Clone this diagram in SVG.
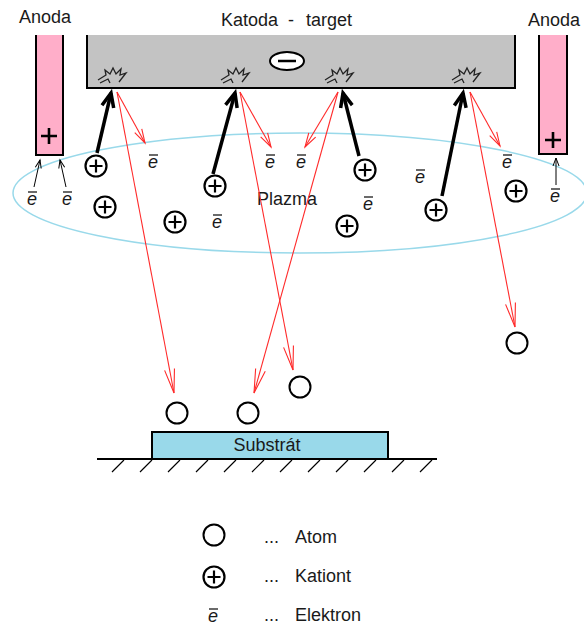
<svg xmlns="http://www.w3.org/2000/svg" xmlns:xlink="http://www.w3.org/1999/xlink" width="584" height="628" viewBox="0 0 584 628">
  <style>
    .lbl { font-family: "Liberation Sans", Arial, sans-serif; font-size: 18px; fill: #1a1a1a; }
    .el { font-family: "Liberation Sans", Arial, sans-serif; font-size: 18px; font-style: italic; fill: #1a1a1a; }
    .elbar { stroke: #1a1a1a; stroke-width: 1.3; }
    .ion { fill: #fff; stroke: #000; stroke-width: 2.2; }
    .ionp { stroke: #000; stroke-width: 2.2; }
    .atom { fill: #fff; stroke: #000; stroke-width: 2; }
    .spark { fill: none; stroke: #222; stroke-width: 1.3; stroke-linejoin: miter; }
    .ray { fill: none; stroke: #ff2a2a; stroke-width: 1.1; }
    .hit { fill: none; stroke: #000; stroke-width: 3.5; }
    .drift { fill: none; stroke: #000; stroke-width: 1; }
    .edge { stroke: #000; stroke-width: 2; fill: none; }
    .plus { stroke: #000; stroke-width: 2.6; }
  </style>
  <defs>
    <marker id="rayHeadLong" viewBox="-30 -10 32 20" refX="0" refY="0" markerWidth="32" markerHeight="20" markerUnits="userSpaceOnUse" orient="auto">
      <path d="M-24,-5 L0,0 L-24,5" fill="none" stroke="#ff2a2a" stroke-width="1.1"/>
    </marker>
    <marker id="rayHeadShort" viewBox="-20 -8 22 16" refX="0" refY="0" markerWidth="22" markerHeight="16" markerUnits="userSpaceOnUse" orient="auto">
      <path d="M-14,-4 L0,0 L-14,4" fill="none" stroke="#ff2a2a" stroke-width="1.1"/>
    </marker>
    <marker id="hitHead" viewBox="-20 -10 24 20" refX="0" refY="0" markerWidth="24" markerHeight="20" markerUnits="userSpaceOnUse" orient="auto">
      <path d="M-14,-6 L0,0 L-14,6" fill="none" stroke="#000" stroke-width="3.5" stroke-linejoin="miter"/>
    </marker>
    <marker id="driftHead" viewBox="-12 -6 14 12" refX="0" refY="0" markerWidth="14" markerHeight="12" markerUnits="userSpaceOnUse" orient="auto">
      <path d="M-8,-3 L0,0 L-8,3" fill="none" stroke="#000" stroke-width="1"/>
    </marker>
    <!-- cation: circle with plus -->
    <g id="cation">
      <circle class="ion" r="10.5"/>
      <path class="ionp" d="M-6.5,0 H6.5 M0,-6.5 V6.5"/>
    </g>
    <!-- electron: italic e with overbar -->
    <g id="electron">
      <line class="elbar" x1="-4" y1="-8" x2="5" y2="-8"/>
      <text class="el" x="0" y="5" text-anchor="middle">e</text>
    </g>
    <!-- sputter spark on cathode surface -->
    <path id="spark" class="spark" d="M-14,3 L-6,-2 L-7,-7 L-2,-3 L1,-9 L4,-3 L9,-8 L8,-2 L14,-4 L7,5 M-12,6 L-4,2 L-2,6"/>
  </defs>

  <!-- plasma region -->
  <g id="plasma">
    <ellipse cx="300" cy="193" rx="287" ry="60" fill="none" stroke="#99d9ea" stroke-width="1.5"/>
    <text class="lbl" x="257" y="205" font-size="17">Plazma</text>
  </g>

  <!-- cathode / target -->
  <g id="cathode">
    <rect x="87" y="35" width="428" height="53" fill="#c3c3c3"/>
    <path class="edge" d="M87,35 V88 H515 V35"/>
    <ellipse cx="287" cy="61" rx="17" ry="9" fill="#fff" stroke="#000" stroke-width="2"/>
    <line x1="278" y1="61" x2="296" y2="61" stroke="#000" stroke-width="2.5"/>
    <use xlink:href="#spark" x="112" y="77"/>
    <use xlink:href="#spark" x="235" y="77"/>
    <use xlink:href="#spark" x="339" y="77"/>
    <use xlink:href="#spark" x="466" y="77"/>
    <text class="lbl" y="26"><tspan x="221">Katoda </tspan><tspan x="288">- </tspan><tspan x="306">target</tspan></text>
  </g>

  <!-- anodes -->
  <g id="anode-left">
    <rect x="36" y="35" width="27" height="120" fill="#ffaec9"/>
    <path class="edge" d="M36,35 V155 H63 V35"/>
    <path class="plus" d="M41,136 H57 M49,128 V144"/>
    <text class="lbl" x="19" y="23">Anoda</text>
  </g>
  <g id="anode-right">
    <rect x="539" y="35" width="28" height="119" fill="#ffaec9"/>
    <path class="edge" d="M539,35 V154 H567 V35"/>
    <path class="plus" d="M545,140 H561 M553,132 V148"/>
    <text class="lbl" x="528" y="26">Anoda</text>
  </g>

  <!-- cations -->
  <g id="cations">
    <use xlink:href="#cation" x="96" y="166"/>
    <use xlink:href="#cation" x="105" y="207"/>
    <use xlink:href="#cation" x="175" y="222"/>
    <use xlink:href="#cation" x="215" y="186"/>
    <use xlink:href="#cation" x="365" y="170"/>
    <use xlink:href="#cation" x="347" y="226"/>
    <use xlink:href="#cation" x="436" y="210"/>
    <use xlink:href="#cation" x="516" y="191"/>
  </g>

  <!-- electrons -->
  <g id="electrons">
    <use xlink:href="#electron" x="32" y="200"/>
    <use xlink:href="#electron" x="67" y="200"/>
    <use xlink:href="#electron" x="153" y="163"/>
    <use xlink:href="#electron" x="217" y="223"/>
    <use xlink:href="#electron" x="270" y="163"/>
    <use xlink:href="#electron" x="301" y="163"/>
    <use xlink:href="#electron" x="368" y="205"/>
    <use xlink:href="#electron" x="420" y="178"/>
    <use xlink:href="#electron" x="507" y="163"/>
    <use xlink:href="#electron" x="555" y="197"/>
  </g>

  <!-- sputtered atoms -->
  <g id="atoms">
    <circle class="atom" cx="177" cy="413" r="10.5"/>
    <circle class="atom" cx="248" cy="413" r="10.5"/>
    <circle class="atom" cx="300" cy="387" r="10.5"/>
    <circle class="atom" cx="517" cy="343" r="10.5"/>
  </g>

  <!-- substrate on ground -->
  <g id="substrate">
    <rect x="152" y="432" width="236" height="27" fill="#99d9ea" stroke="#000" stroke-width="2"/>
    <text class="lbl" x="267" y="451" text-anchor="middle">Substrát</text>
    <line x1="97" y1="459" x2="437" y2="459" stroke="#000" stroke-width="2"/>
    <path d="M112,472 L124,460 M140,472 L152,460 M168,472 L180,460 M196,472 L208,460 M224,472 L236,460 M252,472 L264,460 M280,472 L292,460 M308,472 L320,460 M336,472 L348,460 M364,472 L376,460 M392,472 L404,460 M420,472 L432,460" stroke="#000" stroke-width="1.2"/>
  </g>

  <!-- connectors -->
  <g id="connectors">
    <!-- cation impacts -->
    <line class="hit" x1="97" y1="153" x2="111" y2="93" marker-end="url(#hitHead)"/>
    <line class="hit" x1="213" y1="174" x2="235" y2="93" marker-end="url(#hitHead)"/>
    <line class="hit" x1="359" y1="156" x2="343" y2="93" marker-end="url(#hitHead)"/>
    <line class="hit" x1="442" y1="196" x2="463" y2="93" marker-end="url(#hitHead)"/>
    <!-- secondary electrons -->
    <line class="ray" x1="117" y1="92" x2="145" y2="143" marker-end="url(#rayHeadShort)"/>
    <line class="ray" x1="240" y1="92" x2="271" y2="147" marker-end="url(#rayHeadShort)"/>
    <line class="ray" x1="338" y1="92" x2="305" y2="147" marker-end="url(#rayHeadShort)"/>
    <line class="ray" x1="470" y1="92" x2="500" y2="146" marker-end="url(#rayHeadShort)"/>
    <!-- sputtered atom paths -->
    <line class="ray" x1="117" y1="92" x2="174" y2="393" marker-end="url(#rayHeadLong)"/>
    <line class="ray" x1="240" y1="92" x2="293" y2="370" marker-end="url(#rayHeadLong)"/>
    <line class="ray" x1="338" y1="92" x2="254" y2="393" marker-end="url(#rayHeadLong)"/>
    <line class="ray" x1="470" y1="92" x2="515" y2="327" marker-end="url(#rayHeadLong)"/>
    <!-- electrons drifting to anodes -->
    <line class="drift" x1="34" y1="187" x2="40" y2="160" marker-end="url(#driftHead)"/>
    <line class="drift" x1="66" y1="187" x2="60" y2="160" marker-end="url(#driftHead)"/>
    <line class="drift" x1="556" y1="185" x2="556" y2="158" marker-end="url(#driftHead)"/>
  </g>

  <!-- legend -->
  <g id="legend">
    <circle class="atom" cx="214" cy="535" r="10.5"/>
    <text class="lbl" x="264" y="543">...</text>
    <text class="lbl" x="295" y="543">Atom</text>
    <use xlink:href="#cation" x="214" y="577"/>
    <text class="lbl" x="264" y="582">...</text>
    <text class="lbl" x="295" y="582">Kationt</text>
    <use xlink:href="#electron" x="213" y="617"/>
    <text class="lbl" x="264" y="621">...</text>
    <text class="lbl" x="295" y="621">Elektron</text>
  </g>
</svg>
